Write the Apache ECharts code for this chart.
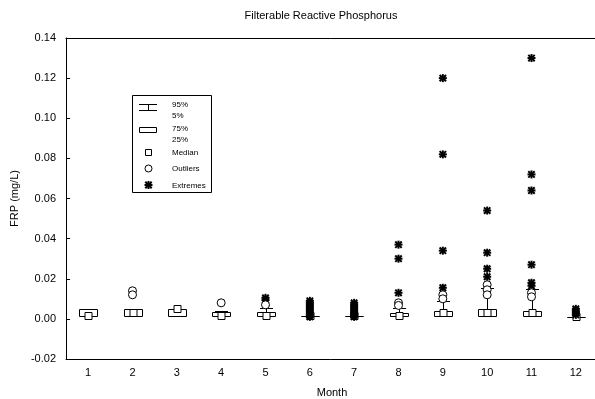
<!DOCTYPE html>
<html>
<head>
<meta charset="utf-8">
<script src="https://cdn.jsdelivr.net/npm/echarts@6/dist/echarts.min.js"></script>
<style>
  html, body { margin: 0; padding: 0; background: #fff; }
  #chart { width: 595px; height: 399px; }
</style>
</head>
<body>
<div id="chart"></div>
<script>
// Monthly FRP summary statistics (mg/L)
const months = ['1', '2', '3', '4', '5', '6', '7', '8', '9', '10', '11', '12'];
const p5     = [0.0015, 0.0015, 0.0015, 0.0015, 0.0015, 0.0015, 0.0015, 0.0015, 0.0015, 0.0015, 0.0015, 0.001];
const q1     = [0.0015, 0.0015, 0.0015, 0.0015, 0.0015, 0.0015, 0.0015, 0.0015, 0.0015, 0.0015, 0.0015, 0.001];
const median = [0.0015, 0.0033, 0.005, 0.0015, 0.0015, 0.0015, 0.0015, 0.0015, 0.003, 0.003, 0.003, 0.001];
const q3     = [0.005, 0.005, 0.005, 0.0035, 0.0035, 0.0015, 0.0015, 0.003, 0.004, 0.005, 0.004, 0.001];
const p95    = [0.005, 0.005, 0.005, 0.004, 0.0055, 0.0015, 0.0015, 0.0055, 0.009, 0.0155, 0.015, 0.001];

// Outliers: [month index, value]
const outlierPoints = [
  [1, 0.014], [1, 0.012],
  [3, 0.008],
  [4, 0.007],
  [7, 0.008], [7, 0.0067],
  [8, 0.012], [8, 0.010],
  [9, 0.017], [9, 0.0145], [9, 0.012],
  [10, 0.013], [10, 0.011]
];

// Extremes: [month index, value]
const extremePoints = [
  [4, 0.0105], [4, 0.0095],
  [5, 0.009], [5, 0.008], [5, 0.007], [5, 0.006], [5, 0.005], [5, 0.004], [5, 0.003], [5, 0.002], [5, 0.001],
  [6, 0.008], [6, 0.007], [6, 0.006], [6, 0.005], [6, 0.004], [6, 0.003], [6, 0.002], [6, 0.001],
  [7, 0.037], [7, 0.030], [7, 0.013],
  [8, 0.120], [8, 0.082], [8, 0.034], [8, 0.0155],
  [9, 0.054], [9, 0.033], [9, 0.025], [9, 0.021],
  [10, 0.130], [10, 0.072], [10, 0.064], [10, 0.027], [10, 0.018], [10, 0.0165],
  [11, 0.005], [11, 0.004], [11, 0.003], [11, 0.002]
];

const yTicks = { min: -0.02, max: 0.14, interval: 0.02 };

const FONT = 'Liberation Sans, Arial, sans-serif';
const boxData = months.map((m, i) => [i, p5[i], q1[i], median[i], q3[i], p95[i]]);

const crisp = v => Math.round(v) + 0.5;

function renderBox(params, api) {
  const i = api.value(0);
  const x = crisp(api.coord([i, 0])[0]);
  const yLo = crisp(api.coord([i, api.value(1)])[1]);
  const yQ1 = crisp(api.coord([i, api.value(2)])[1]);
  const yMed = api.coord([i, api.value(3)])[1];
  const yQ3 = crisp(api.coord([i, api.value(4)])[1]);
  const yHi = crisp(api.coord([i, api.value(5)])[1]);
  const band = api.size([1, 0])[0];
  const bw = Math.round(band * 0.4);
  const cw = Math.round(band * 0.3);
  const line = { stroke: '#000', lineWidth: 1 };
  const children = [];
  if (yHi < yQ3) {
    children.push({ type: 'line', shape: { x1: x, y1: yQ3, x2: x, y2: yHi }, style: line });
  }
  children.push({ type: 'line', shape: { x1: x - cw / 2, y1: yHi, x2: x + cw / 2, y2: yHi }, style: line });
  if (yLo > yQ1) {
    children.push({ type: 'line', shape: { x1: x, y1: yQ1, x2: x, y2: yLo }, style: line });
  }
  children.push({ type: 'line', shape: { x1: x - cw / 2, y1: yLo, x2: x + cw / 2, y2: yLo }, style: line });
  children.push({
    type: 'rect',
    shape: { x: x - bw / 2, y: yQ3, width: bw, height: yQ1 - yQ3 },
    style: { fill: '#fff', stroke: '#000', lineWidth: 1 }
  });
  const ms = 7;
  const my = Math.round(yMed - ms / 2) + 0.5;
  children.push({
    type: 'rect',
    shape: { x: x - ms / 2, y: my, width: ms, height: ms },
    style: { fill: '#fff', stroke: '#000', lineWidth: 1 }
  });
  return { type: 'group', children };
}

function starShapes(cx, cy) {
  const r = 4, d = 3.2;
  const st = { stroke: '#000', lineWidth: 2 };
  return [
    { type: 'line', shape: { x1: cx - r, y1: cy, x2: cx + r, y2: cy }, style: st },
    { type: 'line', shape: { x1: cx, y1: cy - r, x2: cx, y2: cy + r }, style: st },
    { type: 'line', shape: { x1: cx - d, y1: cy - d, x2: cx + d, y2: cy + d }, style: st },
    { type: 'line', shape: { x1: cx - d, y1: cy + d, x2: cx + d, y2: cy - d }, style: st }
  ];
}

function renderStar(params, api) {
  const p = api.coord([api.value(0), api.value(1)]);
  return { type: 'group', children: starShapes(p[0], p[1]) };
}

// Key box drawn in the upper left of the plot
const lx = 148, tx = 172;
const keyText = (t, y) => ({
  type: 'text', style: { text: t, x: tx, y: y, font: '8px ' + FONT, fill: '#000', textVerticalAlign: 'middle' }
});
const legendGraphic = [
  { type: 'rect', shape: { x: 132.5, y: 95.5, width: 79, height: 97 }, style: { fill: '#fff', stroke: '#000', lineWidth: 1 } },
  { type: 'line', shape: { x1: 139, y1: 104.5, x2: 157, y2: 104.5 }, style: { stroke: '#000', lineWidth: 1 } },
  { type: 'line', shape: { x1: lx + 0.5, y1: 104.5, x2: lx + 0.5, y2: 110.5 }, style: { stroke: '#000', lineWidth: 1 } },
  { type: 'line', shape: { x1: 139, y1: 110.5, x2: 157, y2: 110.5 }, style: { stroke: '#000', lineWidth: 1 } },
  keyText('95%', 105), keyText('5%', 116),
  { type: 'rect', shape: { x: 139.5, y: 127.5, width: 17, height: 5 }, style: { fill: '#fff', stroke: '#000', lineWidth: 1 } },
  keyText('75%', 129), keyText('25%', 140),
  { type: 'rect', shape: { x: 145.5, y: 149.5, width: 6, height: 6 }, style: { fill: '#fff', stroke: '#000', lineWidth: 1 } },
  keyText('Median', 153),
  { type: 'circle', shape: { cx: 148.5, cy: 168.5, r: 3.5 }, style: { fill: '#fff', stroke: '#000', lineWidth: 1 } },
  keyText('Outliers', 169),
  { type: 'group', children: starShapes(148.5, 185) },
  keyText('Extremes', 186)
];

const chart = echarts.init(document.getElementById('chart'), null, { renderer: 'canvas' });
chart.setOption({
  animation: false,
  backgroundColor: '#fff',
  title: {
    text: 'Filterable Reactive Phosphorus',
    left: 316, top: 5, textAlign: 'center',
    textStyle: { fontSize: 11, fontWeight: 'normal', color: '#000', fontFamily: FONT }
  },
  grid: { left: 66, top: 38, width: 532, height: 321, show: false, containLabel: false, outerBoundsMode: 'none' },
  xAxis: [{
    type: 'category', data: months, position: 'bottom',
    name: 'Month', nameLocation: 'middle', nameGap: 28,
    nameTextStyle: { fontSize: 11, color: '#000', fontFamily: FONT },
    axisLine: { onZero: false, lineStyle: { color: '#000', width: 1 } },
    axisTick: { inside: true, length: 3, lineStyle: { color: '#000' } },
    axisLabel: { fontSize: 11, color: '#000', fontFamily: FONT, margin: 8 },
    splitLine: { show: false }
  }, {
    type: 'category', data: months, position: 'top',
    axisLine: { onZero: false, lineStyle: { color: '#000', width: 1 } },
    axisTick: { inside: true, length: 3, lineStyle: { color: '#000' } },
    axisLabel: { show: false },
    splitLine: { show: false }
  }],
  yAxis: {
    type: 'value', min: yTicks.min, max: yTicks.max, interval: yTicks.interval,
    name: 'FRP (mg/L)', nameLocation: 'middle', nameGap: 46, nameRotate: 90,
    nameTextStyle: { fontSize: 11, color: '#000', fontFamily: FONT },
    axisLine: { show: true, onZero: false, lineStyle: { color: '#000', width: 1 } },
    axisTick: { show: true, inside: true, length: 4, lineStyle: { color: '#000' } },
    axisLabel: { fontSize: 11, color: '#000', fontFamily: FONT, margin: 10, formatter: v => v.toFixed(2) },
    splitLine: { show: false }
  },
  series: [
    {
      type: 'custom', name: 'Box', renderItem: renderBox, data: boxData,
      encode: { x: 0, y: [1, 2, 3, 4, 5] }, z: 2
    },
    {
      type: 'custom', name: 'Extremes', renderItem: renderStar, data: extremePoints,
      encode: { x: 0, y: 1 }, z: 3
    },
    {
      type: 'scatter', name: 'Outliers', data: outlierPoints, symbol: 'circle', symbolSize: 8,
      itemStyle: { color: '#fff', borderColor: '#000', borderWidth: 1, opacity: 1 }, z: 4
    }
  ],
  graphic: legendGraphic
});
</script>
</body>
</html>
